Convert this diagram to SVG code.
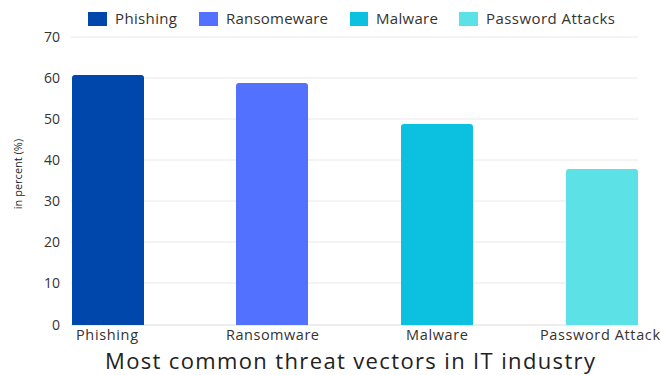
<svg xmlns="http://www.w3.org/2000/svg" width="661" height="375" viewBox="0 0 661 375">
<style>
text{font-family:"Open Sans","Noto Sans","DejaVu Sans",sans-serif;fill:#222}
.tick{font-size:14px;text-anchor:end;fill:#333}
.leg{font-size:15px;fill:#333}
.xl{font-size:14.5px;fill:#333}
.grid{stroke:#e8e8e8;stroke-width:1}
</style>
<rect width="661" height="375" fill="#fff"/>
<g id="grid">
<line class="grid" x1="71" y1="37" x2="638" y2="37"/>
<line class="grid" x1="71" y1="78" x2="638" y2="78"/>
<line class="grid" x1="71" y1="119" x2="638" y2="119"/>
<line class="grid" x1="71" y1="160" x2="638" y2="160"/>
<line class="grid" x1="71" y1="201" x2="638" y2="201"/>
<line class="grid" x1="71" y1="242" x2="638" y2="242"/>
<line class="grid" x1="71" y1="283" x2="638" y2="283"/>
<line x1="71" y1="325" x2="638" y2="325" stroke="#dcdcdc" stroke-width="1"/>
</g>
<g id="yaxis">
<text class="tick" x="60" y="42">70</text>
<text class="tick" x="60" y="83">60</text>
<text class="tick" x="60" y="124">50</text>
<text class="tick" x="60" y="165">40</text>
<text class="tick" x="60" y="206">30</text>
<text class="tick" x="60" y="247">20</text>
<text class="tick" x="60" y="288">10</text>
<text class="tick" x="60" y="330">0</text>
<text x="22" y="174" font-size="11" text-anchor="middle" transform="rotate(-90 22 174)">in percent (%)</text>
</g>
<g id="legend">
<rect x="88" y="12" width="19" height="14" fill="#0047ab"/>
<text class="leg" x="115" y="24" textLength="62">Phishing</text>
<rect x="199" y="12" width="19" height="14" fill="#5271ff"/>
<text class="leg" x="226" y="24" textLength="102">Ransomeware</text>
<rect x="350" y="12" width="18" height="14" fill="#0cc0df"/>
<text class="leg" x="376" y="24" textLength="62">Malware</text>
<rect x="459" y="12" width="19" height="14" fill="#5ce1e6"/>
<text class="leg" x="486" y="24" textLength="129">Password Attacks</text>
</g>
<g id="bar-phishing"><path d="M72 325V78a3 3 0 0 1 3-3h66a3 3 0 0 1 3 3V325Z" fill="#0047ab"/></g>
<g id="bar-ransomware"><path d="M236 325V86a3 3 0 0 1 3-3h66a3 3 0 0 1 3 3V325Z" fill="#5271ff"/></g>
<g id="bar-malware"><path d="M401 325V127a3 3 0 0 1 3-3h66a3 3 0 0 1 3 3V325Z" fill="#0cc0df"/></g>
<g id="bar-password"><path d="M566 325V172a3 3 0 0 1 3-3h66a3 3 0 0 1 3 3V325Z" fill="#5ce1e6"/></g>
<g id="xaxis">
<text class="xl" x="76" y="340" textLength="62">Phishing</text>
<text class="xl" x="226" y="340" textLength="93">Ransomware</text>
<text class="xl" x="406" y="340" textLength="62">Malware</text>
<text class="xl" x="540" y="340" textLength="120">Password Attack</text>
</g>
<text x="105" y="368.5" font-size="22" textLength="490">Most common threat vectors in IT industry</text>
</svg>
